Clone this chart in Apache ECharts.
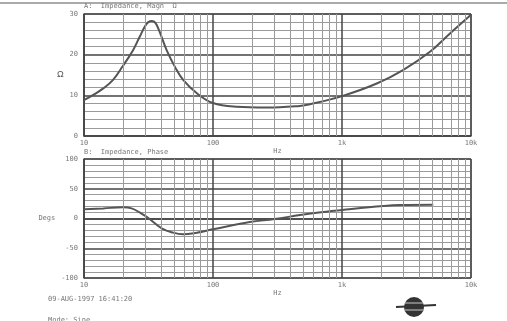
<!DOCTYPE html>
<html>
<head>
<meta charset="utf-8">
<script src="https://cdn.jsdelivr.net/npm/echarts@6/dist/echarts.min.js"></script>
<style>
  html, body { margin: 0; padding: 0; background: #fff; }
  #main { width: 507px; height: 321px; }
</style>
</head>
<body>
<div id="main"></div>
<script>
// impedance magnitude (ohm) vs frequency (Hz)
var magFreq = [10, 11.8, 14.1, 16.8, 20, 24, 27.2, 29.7, 31.5, 33.5, 35.8, 38.8, 43.7, 50.7, 58.7, 75, 100, 152, 260, 470, 565, 1000, 1860, 2970, 4810, 6870, 10000];
var magVal  = [8.8, 10.1, 11.7, 13.8, 17.2, 21.1, 24.6, 27.0, 28.0, 28.3, 27.8, 25.4, 21.1, 17.0, 13.8, 10.5, 8.1, 7.2, 7.0, 7.4, 7.8, 9.8, 12.9, 16.2, 20.7, 25.2, 29.8];
// impedance phase (degrees) vs frequency (Hz)
var phFreq = [10, 14.1, 20, 23.4, 27.2, 30.6, 40, 49, 58.6, 75, 100, 193, 300, 472, 637, 1000, 2090, 2800, 5100];
var phVal  = [15.5, 17, 18.8, 17, 9.8, 3, -16.5, -23.8, -26.6, -23.8, -18.2, -6, -1, 5.9, 9.8, 14.3, 21, 22.7, 23.2];
// minor vertical grid frequencies
var minorFreqs = [20,30,40,50,60,70,80,90,200,300,400,500,600,700,800,900,2000,3000,4000,5000,6000,7000,8000,9000];
var freqLabels = {10:'10', 100:'100', 1000:'1k', 10000:'10k'};

var txtFont = {fontFamily: 'DejaVu Sans Mono', fontSize: 7, color: '#777', fontWeight: 'normal'};

function pairs(xs, ys){
    var out = [];
    for (var i = 0; i < xs.length; i++) out.push([xs[i], ys[i]]);
    return out;
}

function xAxisFor(gi){
    return {
        type: 'log', logBase: 10, gridIndex: gi, min: 10, max: 10000,
        name: 'Hz', nameLocation: 'middle', nameGap: 7,
        nameTextStyle: txtFont,
        axisLine: {lineStyle: {color: '#444', width: 1.5}},
        axisTick: {show: false},
        axisLabel: {
            fontFamily: 'DejaVu Sans Mono', fontSize: 7, color: '#777', margin: 4,
            formatter: function(v){ return freqLabels[Math.round(v)] || ''; }
        },
        splitLine: {show: true, lineStyle: {color: '#444', width: 1.5}}
    };
}

var minorLines = {
    silent: true, symbol: 'none', animation: false,
    label: {show: false},
    lineStyle: {color: '#9a9a9a', width: 1, type: 'solid'},
    data: minorFreqs.map(function(f){ return {xAxis: f}; })
};

var myChart = echarts.init(document.getElementById('main'));
var option = {
    backgroundColor: '#fff',
    animation: false,
    title: [
        {text: 'A:  Impedance, Magn  \u03A9', left: 84, top: 3, padding: 0, textStyle: txtFont},
        {text: 'B:  Impedance, Phase', left: 84, top: 149, padding: 0, textStyle: txtFont},
        {text: '09-AUG-1997 16:41:20', left: 48, top: 296, padding: 0, textStyle: txtFont},
        {text: 'Mode: Sine', left: 48, top: 317, padding: 0, textStyle: txtFont}
    ],
    grid: [
        {left: 84, right: 36, top: 14, height: 122, show: true, borderColor: '#555', borderWidth: 1},
        {left: 84, right: 36, top: 159, height: 119, show: true, borderColor: '#555', borderWidth: 1}
    ],
    xAxis: [xAxisFor(0), xAxisFor(1)],
    yAxis: [
        {
            type: 'value', gridIndex: 0, min: 0, max: 30, interval: 10,
            name: '\u03A9', nameLocation: 'middle', nameGap: 20, nameRotate: 0,
            nameTextStyle: {fontSize: 9, color: '#555'},
            axisLine: {show: true, lineStyle: {color: '#444', width: 1.5}},
            axisTick: {show: false},
            axisLabel: {fontFamily: 'DejaVu Sans Mono', fontSize: 7, color: '#777', margin: 6},
            splitLine: {lineStyle: {color: '#444', width: 1.5}},
            minorTick: {show: false, splitNumber: 5},
            minorSplitLine: {show: true, lineStyle: {color: '#9a9a9a', width: 1}}
        },
        {
            type: 'value', gridIndex: 1, min: -100, max: 100, interval: 50,
            name: 'Degs', nameLocation: 'middle', nameGap: 22, nameRotate: 0,
            nameTextStyle: {fontFamily: 'DejaVu Sans Mono', fontSize: 7, color: '#777', padding: [0, 0, 24, 0]},
            axisLine: {show: true, lineStyle: {color: '#444', width: 1.5}},
            axisTick: {show: false},
            axisLabel: {fontFamily: 'DejaVu Sans Mono', fontSize: 7, color: '#777', margin: 6},
            splitLine: {lineStyle: {color: '#444', width: 1.5}},
            minorTick: {show: false, splitNumber: 5},
            minorSplitLine: {show: true, lineStyle: {color: '#9a9a9a', width: 1}}
        }
    ],
    series: [
        {
            name: 'Magn', type: 'line', xAxisIndex: 0, yAxisIndex: 0,
            data: pairs(magFreq, magVal), smooth: 0.4, showSymbol: false,
            lineStyle: {color: '#555', width: 2},
            markLine: minorLines
        },
        {
            name: 'Phase', type: 'line', xAxisIndex: 1, yAxisIndex: 1,
            data: pairs(phFreq, phVal), smooth: 0.4, showSymbol: false,
            lineStyle: {color: '#555', width: 2},
            markLine: minorLines
        }
    ],
    graphic: [
        {type: 'line', shape: {x1: 0, y1: 3, x2: 507, y2: 3}, style: {stroke: '#aaa', lineWidth: 2}},
        {type: 'circle', shape: {cx: 414, cy: 307, r: 10}, style: {fill: '#333'}},
        {type: 'line', shape: {x1: 396, y1: 307, x2: 436, y2: 305}, style: {stroke: '#333', lineWidth: 2}},
        {type: 'line', shape: {x1: 405, y1: 303, x2: 423, y2: 303}, style: {stroke: '#ccc', lineWidth: 1}},
        {type: 'line', shape: {x1: 405, y1: 310, x2: 423, y2: 310}, style: {stroke: '#ccc', lineWidth: 1}}
    ]
};
myChart.setOption(option);
</script>
</body>
</html>
